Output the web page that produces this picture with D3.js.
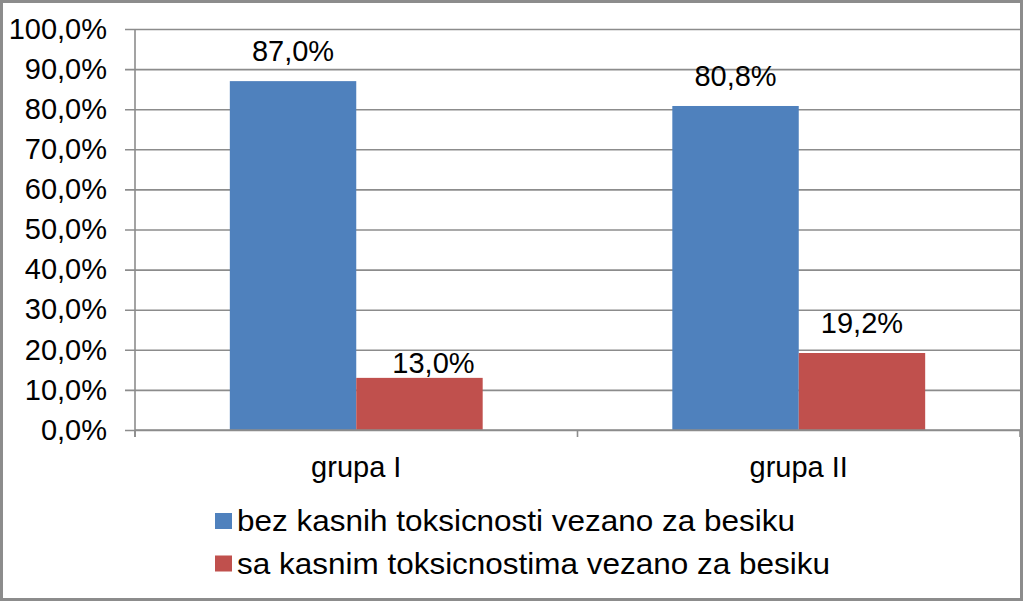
<!DOCTYPE html>
<html>
<head>
<meta charset="utf-8">
<script src="https://cdn.jsdelivr.net/npm/d3@7"></script>
<style>
  body { margin: 0; background: #fff; }
  text { font-family: "Liberation Sans", Arial, sans-serif; fill: #000; }
</style>
</head>
<body>
<div id="chart"></div>
<script>

var categories = [ "grupa I", "grupa II" ];
var seriesNames = [ "bez kasnih toksicnosti vezano za besiku",
		"sa kasnim toksicnostima vezano za besiku" ];
var seriesBez = [ 87.0, 80.8 ];
var seriesSa = [ 13.0, 19.2 ];
var yTicks = [ 0, 10, 20, 30, 40, 50, 60, 70, 80, 90, 100 ];

var colors = [ "#4f81bd", "#c0504d" ];

var width = 1023, height = 601;
var margin = { top: 29, left: 135, bottom: 171, right: 3 };

var svg = d3.select("#chart").append("svg")
		.attr("width", width).attr("height", height);

svg.append("rect").attr("width", width).attr("height", height).attr("fill", "#fff");

var x0 = d3.scaleBand().domain(categories)
		.range([ margin.left, width - margin.right ]);
// excel default gap width 150%: two bars + 1.5 bar per category
var x1 = d3.scaleBand().domain([ 0, 1 ])
		.range([ 0, x0.bandwidth() ]).paddingOuter(0.75).paddingInner(0);
var y = d3.scaleLinear().domain([ 0, 100 ])
		.range([ height - margin.bottom, margin.top ]);

var fmt = function(v) {
	return v.toFixed(1).replace(".", ",") + "%";
};

// gridlines + y axis
var yAxis = svg.append("g").attr("transform", "translate(" + margin.left + ",0)")
		.call(d3.axisLeft(y).tickValues(yTicks).tickFormat(fmt)
				.tickSize(-(width - margin.right - margin.left)).tickPadding(28));
yAxis.select(".domain").remove();
yAxis.selectAll(".tick line").attr("stroke", "#8c8c8c").attr("stroke-width", 1.6)
		.attr("x1", -10);
yAxis.selectAll(".tick text").attr("font-size", 29).style("font-family", "Liberation Sans, Arial, sans-serif")
		.attr("fill", "#000");

svg.append("line").attr("x1", margin.left).attr("x2", margin.left)
		.attr("y1", margin.top).attr("y2", y(0) + 7)
		.attr("stroke", "#8c8c8c").attr("stroke-width", 1.6);

// bars
var rows = categories.map(function(c, i) {
	return { cat: c, values: [ seriesBez[i], seriesSa[i] ] };
});

var groups = svg.selectAll(".group").data(rows).enter().append("g")
		.attr("class", "group")
		.attr("transform", function(d) { return "translate(" + x0(d.cat) + ",0)"; });

groups.selectAll("rect").data(function(d) { return d.values; }).enter()
		.append("rect")
		.attr("x", function(d, i) { return x1(i); })
		.attr("width", x1.bandwidth())
		.attr("y", function(d) { return y(d); })
		.attr("height", function(d) { return y(0) - y(d); })
		.attr("fill", function(d, i) { return colors[i]; });

// manual label nudge (the 13,0% label was dragged in the original)
var nudge = function(ci, si) {
	if (ci === 0 && si === 1) return [ 14, 15 ];
	return [ 0, 0 ];
};

groups.each(function(d, ci) {
	d3.select(this).selectAll(".lbl").data(d.values).enter().append("text")
			.attr("class", "lbl")
			.attr("text-anchor", "middle").attr("font-size", 29)
			.attr("x", function(v, si) { return x1(si) + x1.bandwidth() / 2 + nudge(ci, si)[0]; })
			.attr("y", function(v, si) { return y(v) - 20 + nudge(ci, si)[1]; })
			.text(fmt);
});

// x axis
var xAxis = svg.append("g").attr("transform", "translate(0," + y(0) + ")");
xAxis.append("line").attr("x1", margin.left).attr("x2", width - margin.right)
		.attr("stroke", "#8c8c8c").attr("stroke-width", 1.6);
var bounds = [ margin.left ].concat(categories.map(function(c) { return x0(c) + x0.bandwidth(); }));
xAxis.selectAll(".xt").data(bounds).enter().append("line")
		.attr("x1", function(d) { return d; }).attr("x2", function(d) { return d; })
		.attr("y1", 0).attr("y2", 7)
		.attr("stroke", "#8c8c8c").attr("stroke-width", 1.6);
xAxis.selectAll(".cat").data(categories).enter().append("text")
		.attr("text-anchor", "middle").attr("font-size", 29)
		.attr("x", function(d) { return x0(d) + x0.bandwidth() / 2; })
		.attr("y", 47)
		.text(function(d) { return d; });

// legend
var legend = svg.append("g").attr("transform", "translate(215,513)");
var li = legend.selectAll(".li").data(seriesNames).enter().append("g")
		.attr("transform", function(d, i) { return "translate(0," + (i * 42.5) + ")"; });
li.append("rect").attr("width", 17).attr("height", 16)
		.attr("fill", function(d, i) { return colors[i]; });
li.append("text").attr("x", 22).attr("y", 18).attr("font-size", 30)
		.attr("textLength", function(d, i) { return i === 0 ? 558 : 593; })
		.attr("lengthAdjust", "spacingAndGlyphs")
		.text(function(d) { return d; });

// outer frame
svg.append("rect").attr("x", 1.5).attr("y", 1.5)
		.attr("width", width - 3).attr("height", height - 3)
		.attr("fill", "none").attr("stroke", "#8c8c8c").attr("stroke-width", 3);

</script>
</body>
</html>
